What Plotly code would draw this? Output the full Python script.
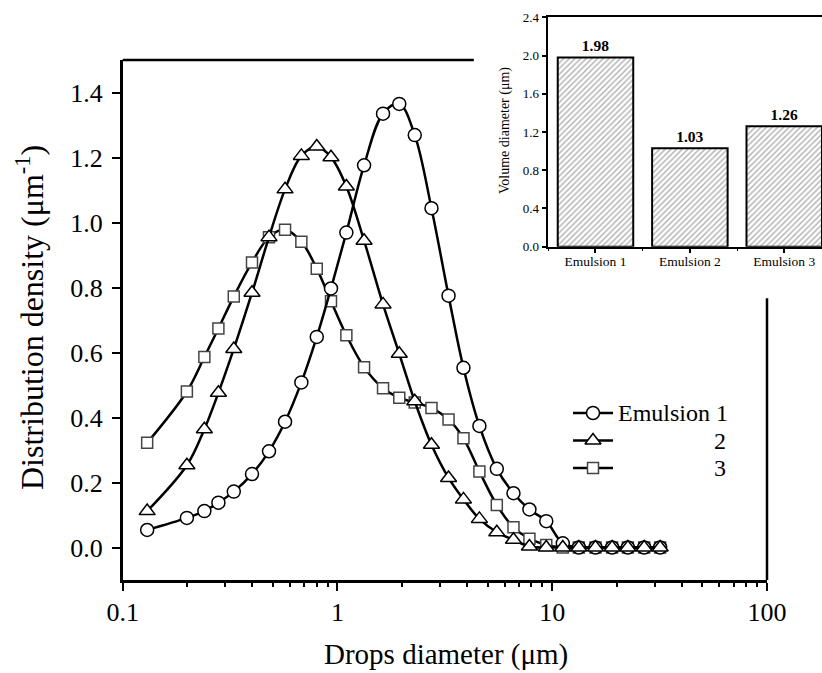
import plotly.graph_objects as go

# ---------------- data ----------------
diameter_um = [0.130, 0.199, 0.240, 0.279, 0.329, 0.400, 0.480, 0.570, 0.679, 0.801,
               0.933, 1.10, 1.33, 1.63, 1.94, 2.29, 2.74, 3.29, 3.86, 4.58,
               5.52, 6.60, 7.83, 9.38, 11.2, 13.3, 15.9, 19.0, 22.5, 26.8, 31.8]

emulsion1 = [0.054, 0.091, 0.112, 0.138, 0.172, 0.226, 0.296, 0.387, 0.508, 0.648,
             0.797, 0.969, 1.176, 1.335, 1.365, 1.269, 1.044, 0.775, 0.553, 0.374,
             0.242, 0.167, 0.117, 0.081, 0.013, 0.0, 0.0, 0.0, 0.0, 0.0, 0.0]

emulsion2 = [0.112, 0.253, 0.364, 0.476, 0.611, 0.784, 0.955, 1.102, 1.205, 1.234,
             1.201, 1.111, 0.944, 0.748, 0.596, 0.450, 0.316, 0.214, 0.148, 0.088,
             0.047, 0.024, 0.003, 0.0, 0.0, 0.0, 0.0, 0.0, 0.0, 0.0, 0.0]

emulsion3 = [0.322, 0.480, 0.586, 0.674, 0.772, 0.877, 0.955, 0.978, 0.941, 0.858,
             0.758, 0.653, 0.555, 0.490, 0.461, 0.446, 0.429, 0.394, 0.336, 0.234,
             0.131, 0.062, 0.027, 0.008, 0.0, 0.0, 0.0, 0.0, 0.0, 0.0, 0.0]

legend_names = ["Emulsion 1", "2", "3"]

inset_labels = ["Emulsion 1", "Emulsion 2", "Emulsion 3"]
volume_diameter = [1.98, 1.03, 1.26]

x_ticks = [0.1, 1, 10, 100]
x_ticktext = ["0.1", "1", "10", "100"]

# ---------------- layout constants ----------------
W, H = 822, 673
FONT = "Liberation Serif"


def px_x(p):
    return p / W


def px_y(p):
    return 1 - p / H


markers = {
    1: dict(symbol="circle", size=13, color="white", line=dict(color="black", width=1.5)),
    2: dict(symbol="triangle-up", size=14, color="white", line=dict(color="black", width=1.5)),
    3: dict(symbol="square", size=11, color="white", line=dict(color="#444", width=1.5)),
}
series = {1: emulsion1, 2: emulsion2, 3: emulsion3}

fig = go.Figure()

# draw order: squares, circles, triangles (triangles on top)
for k in (3, 1, 2):
    fig.add_trace(go.Scatter(
        x=diameter_um, y=series[k], name=f"Emulsion {k}",
        mode="lines+markers",
        line=dict(color="black", width=2.5, shape="spline", smoothing=1.0),
        marker=markers[k], showlegend=False,
        xaxis="x", yaxis="y",
    ))

# custom legend glyphs on a hidden helper axis (rows 0,1,2)
for i, k in enumerate((1, 2, 3)):
    fig.add_trace(go.Scatter(x=[0, 1], y=[i, i], mode="lines",
                             line=dict(color="black", width=2.5),
                             showlegend=False, hoverinfo="skip",
                             xaxis="x3", yaxis="y3"))
    fig.add_trace(go.Scatter(x=[0.5], y=[i], mode="markers", marker=markers[k],
                             showlegend=False, hoverinfo="skip",
                             xaxis="x3", yaxis="y3"))

# inset bars
fig.add_trace(go.Bar(
    x=list(range(len(inset_labels))), y=volume_diameter,
    width=0.8,
    marker=dict(color="white", line=dict(color="black", width=2),
                pattern=dict(shape="/", fgcolor="#606060", bgcolor="white",
                             size=4, solidity=0.35)),
    text=[f"{v:.2f}" for v in volume_diameter],
    textposition="outside",
    textfont=dict(family=FONT, size=15.5, color="black", weight="bold"),
    cliponaxis=False,
    showlegend=False,
    xaxis="x2", yaxis="y2",
))

main_x_dom = [px_x(122.7), px_x(767)]
main_y_dom = [px_y(580), px_y(60)]

row_h = 27.5
leg_top = 413 - row_h / 2

fig.update_layout(
    width=W, height=H,
    margin=dict(l=0, r=0, t=0, b=0, autoexpand=False),
    paper_bgcolor="white", plot_bgcolor="white",
    font=dict(family=FONT, color="black"),
    showlegend=False,
    xaxis=dict(type="log", range=[-1, 2], domain=main_x_dom, anchor="y",
               automargin=False,
               showline=True, linewidth=2.5, linecolor="black", mirror=False,
               ticks="outside", ticklen=8, tickwidth=2, tickcolor="black",
               tickmode="array", tickvals=x_ticks, ticktext=x_ticktext,
               tickfont=dict(family=FONT, size=26, color="black"),
               ticklabelstandoff=-1,
               minor=dict(ticks="outside", ticklen=4, tickwidth=1.5, tickcolor="black",
                          dtick="D1", showgrid=False),
               showgrid=False, zeroline=False),
    yaxis=dict(range=[-0.1, 1.5], domain=main_y_dom, anchor="x",
               automargin=False,
               showline=True, linewidth=2.5, linecolor="black", mirror=False,
               ticks="outside", ticklen=8, tickwidth=2, tickcolor="black",
               tick0=0, dtick=0.2, tickformat=".1f",
               tickfont=dict(family=FONT, size=26, color="black"),
               ticklabelstandoff=4,
               showgrid=False, zeroline=False),
    xaxis2=dict(domain=[px_x(548.3), 1.0], anchor="y2", range=[-0.5, 2.4],
                automargin=False,
                showline=True, linewidth=1.5, linecolor="black", mirror=True,
                ticks="outside", ticklen=5, tickwidth=1.5, tickcolor="black",
                tickmode="array", tickvals=list(range(len(inset_labels))),
                ticktext=inset_labels,
                tickfont=dict(family=FONT, size=13.5, color="black"),
                ticklabelstandoff=-4,
                minor=dict(tickmode="linear", tick0=0.5, dtick=1, ticks="outside",
                           ticklen=3, tickwidth=1.2, tickcolor="black", showgrid=False),
                showgrid=False, zeroline=False),
    yaxis2=dict(domain=[px_y(246.7), px_y(17.3)], anchor="x2", range=[0, 2.4],
                automargin=False,
                showline=True, linewidth=1.5, linecolor="black", mirror=False,
                ticks="outside", ticklen=5, tickwidth=1.5, tickcolor="black",
                tick0=0, dtick=0.4, tickformat=".1f",
                tickfont=dict(family=FONT, size=13, color="black"),
                showgrid=False, zeroline=False),
    xaxis3=dict(domain=[px_x(573), px_x(613)], anchor="y3", range=[0, 1],
                visible=False, fixedrange=True),
    yaxis3=dict(domain=[px_y(leg_top + 3 * row_h), px_y(leg_top)], anchor="x3",
                range=[2.5, -0.5], visible=False, fixedrange=True),
    shapes=[
        dict(type="line", xref="x domain", yref="y domain", x0=0, x1=0.545, y0=1, y1=1,
             line=dict(color="black", width=2.5)),
        dict(type="line", xref="x domain", yref="y domain", x0=1, x1=1, y0=0, y1=0.542,
             line=dict(color="black", width=2.5)),
    ],
    annotations=[
        dict(text=legend_names[0], xref="paper", yref="y3", x=px_x(616), y=0,
             xanchor="left", yanchor="middle", showarrow=False,
             font=dict(family=FONT, size=24, color="black")),
        dict(text=legend_names[1], xref="paper", yref="y3", x=px_x(728), y=1,
             xanchor="right", yanchor="middle", showarrow=False,
             font=dict(family=FONT, size=24, color="black")),
        dict(text=legend_names[2], xref="paper", yref="y3", x=px_x(728), y=2,
             xanchor="right", yanchor="middle", showarrow=False,
             font=dict(family=FONT, size=24, color="black")),
        dict(text="Drops diameter (\u03bcm)", xref="paper", yref="paper",
             x=px_x(446), y=px_y(654), xanchor="center", yanchor="middle",
             showarrow=False, font=dict(family=FONT, size=29, color="black")),
        dict(text="Distribution density (\u03bcm<sup>-1</sup>)", xref="paper", yref="paper",
             x=px_x(30), y=px_y(318), xanchor="center", yanchor="middle", textangle=-90,
             showarrow=False, font=dict(family=FONT, size=32, color="black")),
        dict(text="Volume diameter (\u03bcm)", xref="paper", yref="paper",
             x=px_x(505), y=px_y(131), xanchor="center", yanchor="middle", textangle=-90,
             showarrow=False, font=dict(family=FONT, size=14, color="black")),
    ],
)

fig.write_html("out.html",
               config={"displayModeBar": False},
               post_script="document.body.style.margin='0';document.body.style.overflow='hidden';")
